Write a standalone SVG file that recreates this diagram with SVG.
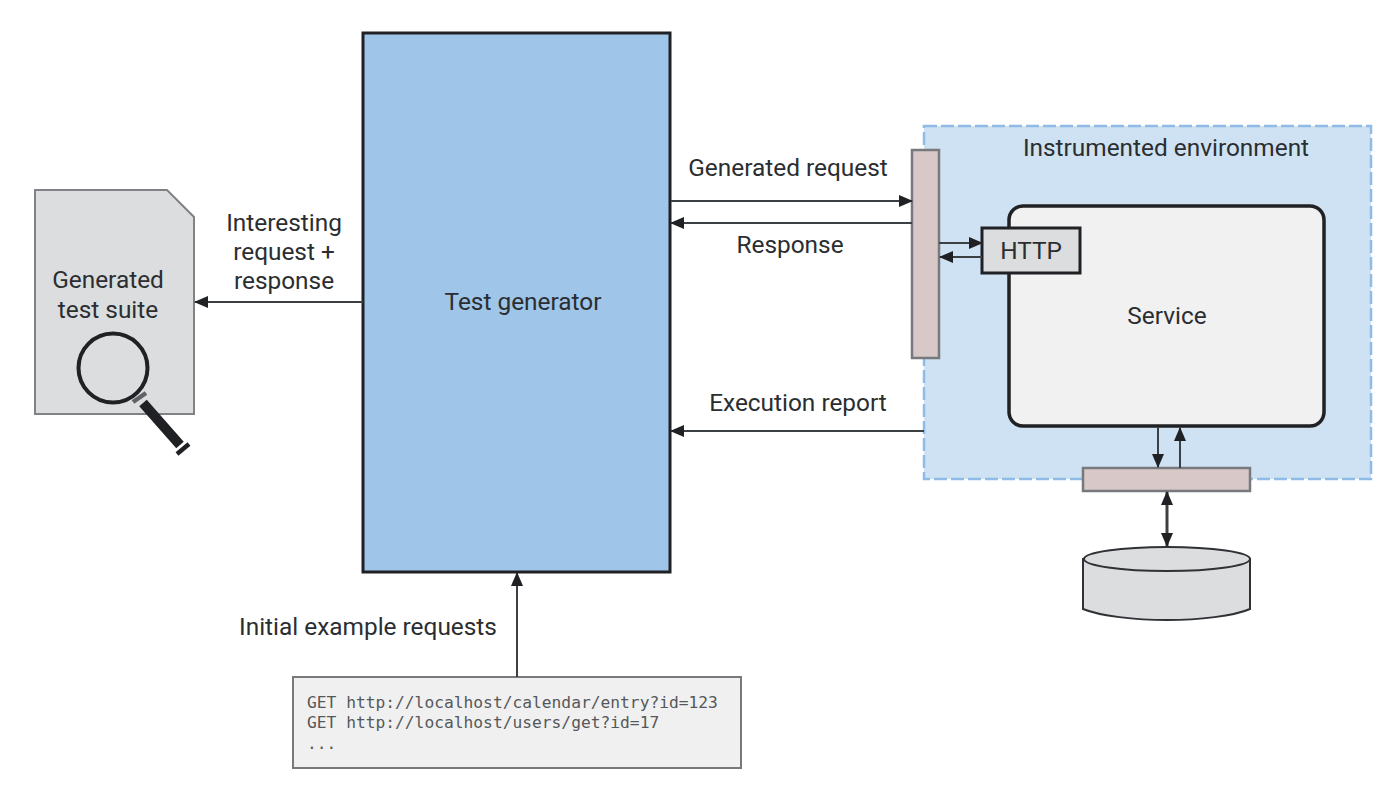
<svg xmlns="http://www.w3.org/2000/svg" width="1400" height="793" viewBox="0 0 1400 793">
<style>
.t{font-family:Roboto,"Liberation Sans",sans-serif;font-size:24.4px;fill:#2b2e31;text-anchor:middle}
.m{font-family:"DejaVu Sans Mono","Liberation Mono",monospace;font-size:16.25px;fill:#55585b}
.c{fill:none;stroke:#3c4043;stroke-width:2}
.p{fill:#d8c8c8;stroke:#77797c;stroke-width:2.5}
</style>
<defs>
<marker id="a" viewBox="0 0 14 12" refX="13" refY="6" markerWidth="14" markerHeight="12" markerUnits="userSpaceOnUse" orient="auto-start-reverse"><path d="M0 0L14 6L0 12Z" fill="#202124"/></marker>
</defs>
<rect width="1400" height="793" fill="#fff"/>
<g id="environment"><rect x="924" y="126" width="447" height="353" fill="#cfe2f3" stroke="#8ebce6" stroke-width="2.5" stroke-dasharray="13 4"/><text class="t" x="1166" y="156">Instrumented environment</text></g>
<g id="generator"><rect x="363" y="33" width="307" height="539" fill="#9fc5e8" stroke="#202124" stroke-width="3"/><text class="t" x="523" y="310">Test generator</text></g>
<g id="suite"><path d="M35 190H167L194 217V414H35Z" fill="#dcdddf" stroke="#808285" stroke-width="2"/><text class="t" x="108" y="288">Generated</text><text class="t" x="108" y="318">test suite</text>
<circle cx="113" cy="368" r="34.5" fill="none" stroke="#202124" stroke-width="4"/><path d="M133 402L146 393" stroke="#5f6368" stroke-width="4.5"/><path d="M143 403L180 445" stroke="#202124" stroke-width="10"/><path d="M177 454L189 444" stroke="#202124" stroke-width="4.5"/></g>
<g id="proxy"><rect class="p" x="912" y="150" width="27" height="208"/></g>
<g id="service"><rect x="1009" y="206" width="315" height="220" rx="14" fill="#f1f1f1" stroke="#202124" stroke-width="3.5"/><text class="t" x="1167" y="324">Service</text></g>
<g id="http"><rect x="982" y="228" width="98" height="45" fill="#dcdddf" stroke="#202124" stroke-width="3"/><text class="t" x="1031" y="259">HTTP</text></g>
<g id="db-proxy"><rect class="p" x="1083" y="468" width="167" height="23"/></g>
<g id="database"><path d="M1083 559V609C1100 616 1135 620 1167 620S1234 616 1250 609V559Z" fill="#dcdddf" stroke="#303134" stroke-width="2"/><ellipse cx="1167" cy="559" rx="83" ry="12" fill="#dcdddf" stroke="#303134" stroke-width="2"/></g>
<g id="examples"><rect x="293" y="677" width="448" height="91" fill="#f0f0f0" stroke="#77797c" stroke-width="2"/><text class="m" x="307" y="708">GET http://localhost/calendar/entry?id=123</text><text class="m" x="307" y="728">GET http://localhost/users/get?id=17</text><text class="m" x="307" y="749">...</text></g>
<g id="connectors">
<path class="c" d="M363 302H195" marker-end="url(#a)"/>
<path class="c" d="M671 201H912" marker-end="url(#a)"/>
<path class="c" d="M912 223H671" marker-end="url(#a)"/>
<path class="c" d="M939 243H982" marker-end="url(#a)"/>
<path class="c" d="M982 257H940" marker-end="url(#a)"/>
<path class="c" d="M924 431H671" marker-end="url(#a)"/>
<path class="c" d="M1158 427V467" marker-end="url(#a)"/>
<path class="c" d="M1180 468V428" marker-end="url(#a)"/>
<path class="c" d="M1167 492V546" marker-start="url(#a)" marker-end="url(#a)" style="stroke-width:3"/>
<path class="c" d="M517 677V573" marker-end="url(#a)"/>
</g>
<g id="labels">
<text class="t" x="284" y="231">Interesting</text><text class="t" x="284" y="260">request +</text><text class="t" x="284" y="289">response</text>
<text class="t" x="788" y="176">Generated request</text>
<text class="t" x="790" y="253">Response</text>
<text class="t" x="798" y="411">Execution report</text>
<text class="t" x="368" y="635">Initial example requests</text>
</g>
</svg>
